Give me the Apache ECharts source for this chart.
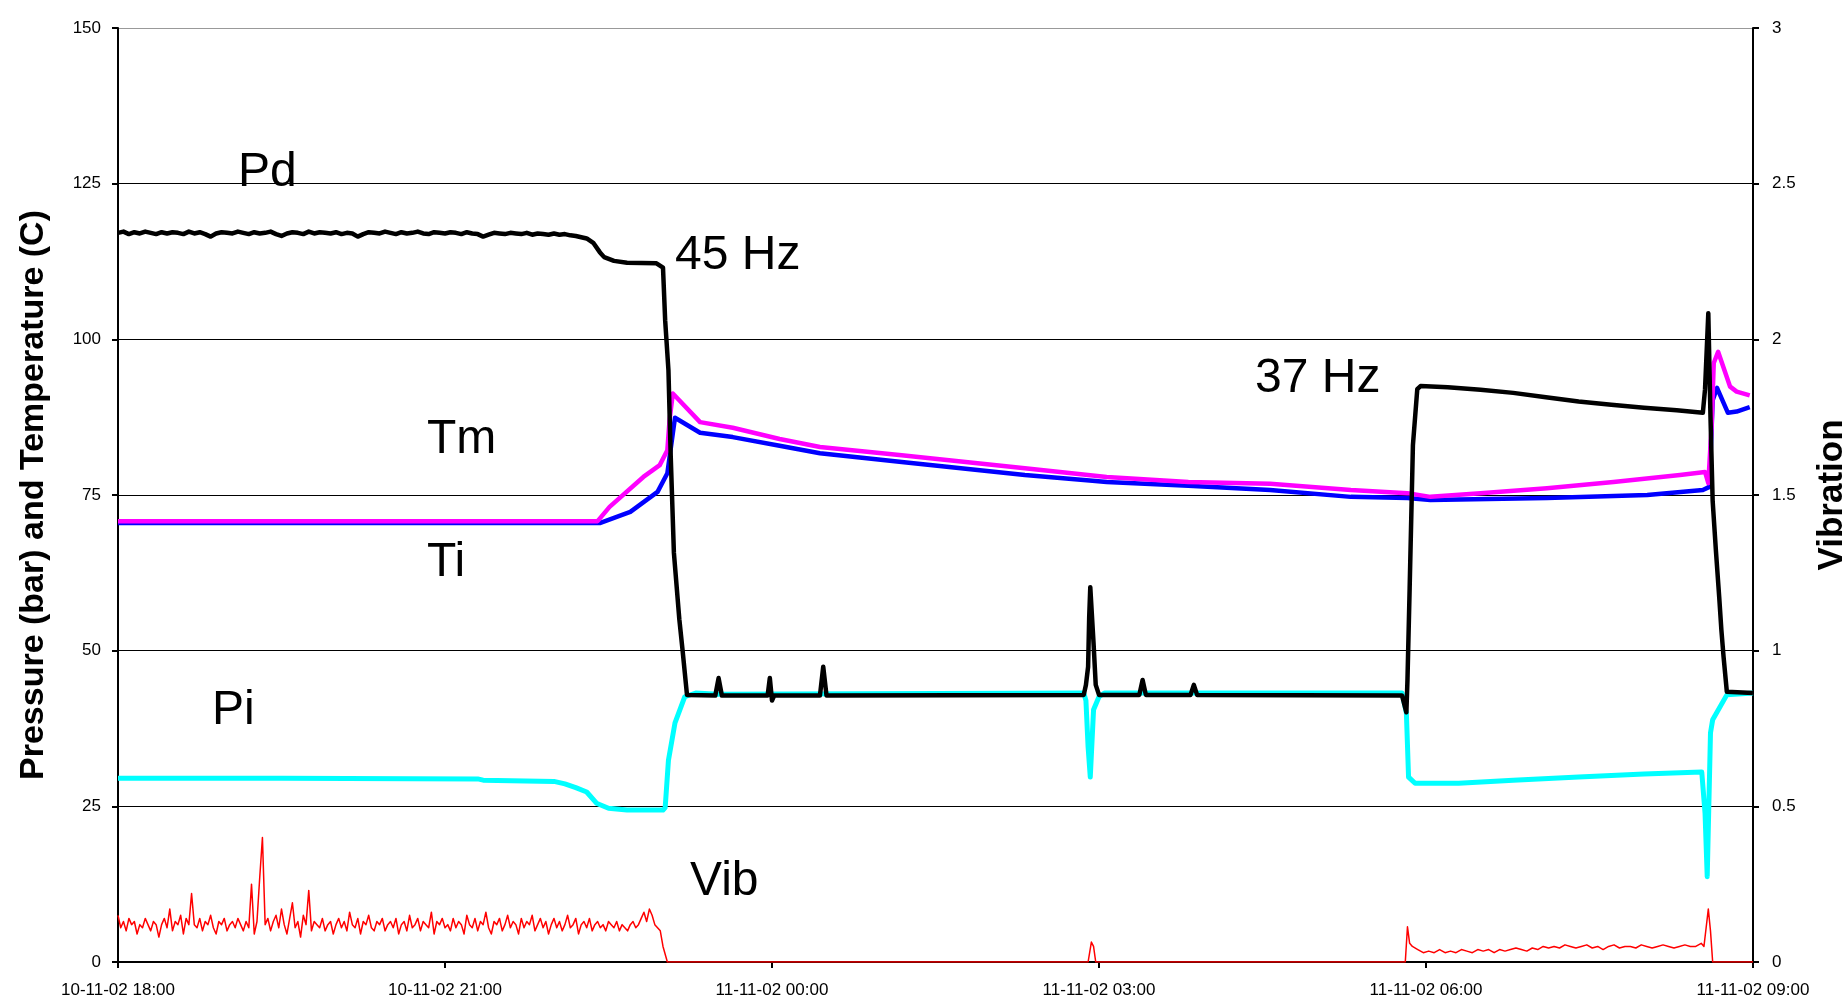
<!DOCTYPE html>
<html>
<head>
<meta charset="utf-8">
<script src="https://cdn.jsdelivr.net/npm/echarts@6/dist/echarts.min.js"></script>
<style>
html, body { margin: 0; padding: 0; background: #fff; }
#chart { width: 1845px; height: 1003px; }
</style>
</head>
<body>
<div id="chart"></div>
<script>
// x = hours since 10-11-02 18:00
const tickLabels = ['10-11-02 18:00', '10-11-02 21:00', '11-11-02 00:00', '11-11-02 03:00', '11-11-02 06:00', '11-11-02 09:00'];

// Pd (bar): noisy plateau sampled every 0.05 h from 0 h, then read-off points
const pdNoise = [
  117.1,117.3,116.9,117.2,117.0,117.3,117.1,116.9,117.2,117.0,
  117.2,117.1,116.9,117.3,117.0,117.2,116.9,116.5,117.0,117.2,
  117.1,117.0,117.3,117.1,116.9,117.2,117.0,117.1,117.3,116.9,
  116.6,117.0,117.2,117.1,116.9,117.3,117.0,117.2,117.1,117.0,
  117.2,116.9,117.1,117.0,116.5,116.9,117.2,117.1,117.0,117.3,
  117.1,116.9,117.2,117.0,117.1,117.3,117.0,116.9,117.2,117.1,
  117.0,117.2,117.1,116.9,117.2,117.0,116.9,116.5,116.8,117.1,
  117.0,116.9,117.1,117.0,116.9,117.1,116.8,117.0,116.9,116.8,
  117.0,116.8,116.9,116.7,116.6,116.4,116.2
];
const pdPoints = [
  [4.36, 115.5], [4.42, 114.0], [4.46, 113.2], [4.55, 112.6], [4.67, 112.3], [4.94, 112.2],
  [5.0, 111.5], [5.02, 103], [5.05, 95], [5.07, 81.7], [5.1, 65.7], [5.15, 55], [5.18, 50], [5.22, 42.9],
  [5.48, 42.8], [5.51, 45.6], [5.54, 42.8], [5.96, 42.8], [5.98, 45.6], [6.0, 42.0], [6.02, 42.8],
  [6.44, 42.8], [6.47, 47.4], [6.5, 42.8],
  [8.86, 42.9], [8.88, 44.5], [8.9, 47.4], [8.91, 55.4], [8.92, 60.2], [8.95, 51.2], [8.97, 44.5], [9.0, 42.9],
  [9.37, 42.9], [9.4, 45.3], [9.43, 42.9], [9.84, 42.9], [9.87, 44.5], [9.9, 42.9],
  [11.78, 42.8], [11.82, 40.1], [11.83, 45.3], [11.85, 60], [11.88, 83], [11.92, 92], [11.95, 92.5],
  [12.2, 92.3], [12.5, 91.9], [12.8, 91.4], [13.1, 90.7], [13.4, 90.0], [13.7, 89.5], [14.0, 89.0],
  [14.3, 88.6], [14.54, 88.2], [14.56, 92], [14.59, 104.2], [14.61, 87.5], [14.63, 74], [14.66, 66],
  [14.69, 58.6], [14.71, 53.3], [14.73, 49], [14.76, 43.4], [15, 43.2]
];

// Tm (C)
const tmPoints = [
  [0, 70.8], [4.4, 70.8], [4.51, 73.1], [4.82, 77.9], [4.97, 79.8], [5.04, 82.2], [5.06, 87], [5.09, 91.3],
  [5.34, 86.7], [5.64, 85.8], [6.07, 84.0], [6.44, 82.7], [7.19, 81.4], [8.32, 79.3], [9.07, 77.9],
  [9.82, 77.1], [10.57, 76.8], [11.31, 75.8], [11.83, 75.3], [12.04, 74.7], [12.5, 75.3], [13.11, 76.1],
  [13.72, 77.1], [14.33, 78.2], [14.56, 78.7], [14.59, 76.9], [14.62, 86], [14.64, 96.2], [14.68, 98],
  [14.79, 92.4], [14.85, 91.6], [14.97, 91]
];

// Ti (C)
const tiPoints = [
  [0, 70.5], [4.42, 70.5], [4.7, 72.3], [4.95, 75.5], [5.04, 78.5], [5.09, 84.9], [5.11, 87.4],
  [5.34, 85], [5.64, 84.3], [6.07, 82.9], [6.44, 81.7], [7.19, 80.3], [8.32, 78.2], [8.94, 77.3],
  [9.07, 77.1], [9.82, 76.5], [10.57, 75.8], [11.31, 74.7], [11.83, 74.5], [12.04, 74.2], [13.11, 74.5],
  [14.03, 75], [14.54, 75.8], [14.6, 76.3], [14.63, 90.2], [14.67, 92.2], [14.77, 88.2], [14.85, 88.4],
  [14.97, 89.1]
];

// Pi (bar)
const piPoints = [
  [0, 29.5], [1.5, 29.5], [3.3, 29.4], [3.35, 29.2], [4.0, 29.0], [4.1, 28.6], [4.2, 28.0], [4.3, 27.3],
  [4.39, 25.5], [4.5, 24.7], [4.67, 24.4], [5.0, 24.4], [5.02, 24.8], [5.05, 32.4], [5.11, 38.4],
  [5.2, 42.6], [5.3, 43.2], [5.5, 43.0], [8.86, 43.2], [8.88, 42], [8.9, 34.5], [8.92, 29.7],
  [8.95, 40.5], [9.0, 42.6], [9.05, 43.2], [11.78, 43.2], [11.82, 40], [11.84, 29.7], [11.9, 28.7],
  [12.3, 28.7], [12.8, 29.2], [13.4, 29.7], [14.0, 30.2], [14.53, 30.5], [14.56, 23.9], [14.58, 13.7],
  [14.61, 36.8], [14.63, 38.9], [14.76, 42.9], [15, 43.2]
];

// Vib (right axis): running noise every 0.025 h from 0 h
const vibNoise = [
  0.15,0.11,0.13,0.10,0.14,0.12,0.13,0.09,0.12,0.11,0.14,0.12,0.10,0.13,0.12,0.08,0.12,0.14,0.11,0.17,0.10,
  0.13,0.12,0.15,0.09,0.14,0.12,0.22,0.12,0.11,0.14,0.10,0.13,0.12,0.15,0.11,0.09,0.13,0.12,0.14,0.10,
  0.12,0.13,0.11,0.14,0.12,0.10,0.13,0.11,0.25,0.09,0.13,0.27,0.40,0.12,0.14,0.10,0.13,0.15,0.11,0.17,
  0.12,0.09,0.14,0.19,0.11,0.13,0.08,0.15,0.12,0.23,0.10,0.13,0.12,0.11,0.14,0.10,0.12,0.13,0.09,0.12,
  0.14,0.11,0.13,0.10,0.16,0.12,0.11,0.14,0.09,0.13,0.12,0.15,0.11,0.10,0.13,0.12,0.14,0.10,0.12,0.13,
  0.11,0.14,0.09,0.12,0.13,0.10,0.15,0.11,0.12,0.14,0.10,0.13,0.12,0.11,0.16,0.09,0.13,0.12,0.14,0.11,
  0.12,0.10,0.14,0.11,0.13,0.12,0.09,0.15,0.12,0.11,0.14,0.10,0.13,0.12,0.16,0.11,0.09,0.13,0.12,0.14,
  0.10,0.12,0.15,0.11,0.13,0.12,0.09,0.14,0.11,0.13,0.12,0.15,0.10,0.12,0.14,0.11,0.13,0.09,0.12,0.14,
  0.11,0.13,0.10,0.12,0.15,0.11,0.12,0.14,0.09,0.12,0.13,0.11,0.14,0.10,0.12,0.13,0.11,0.12,0.10,0.13,
  0.12,0.11,0.13,0.10,0.12,0.11,0.10,0.12,0.13,0.11,0.12,0.14,0.16,0.13,0.17,0.15,0.12,0.11,0.10,0.05
];
const vibMid = [[5.04, 0], [8.9, 0], [8.93, 0.064], [8.95, 0.05], [8.97, 0], [11.81, 0], [11.83, 0.113], [11.85, 0.06]];
// low running level after restart, every 0.05 h from 11.875 h
const vibLow = [
  0.05,0.04,0.03,0.035,0.03,0.04,0.03,0.035,0.03,0.04,
  0.035,0.03,0.04,0.035,0.04,0.03,0.04,0.035,0.04,0.045,
  0.04,0.035,0.045,0.04,0.05,0.045,0.05,0.045,0.055,0.05,
  0.045,0.05,0.055,0.045,0.05,0.04,0.05,0.055,0.045,0.05,
  0.05,0.045,0.055,0.05,0.045,0.05,0.055,0.05,0.045,0.05,
  0.055,0.05,0.05,0.06
];
const vibEnd = [[14.55, 0.05], [14.57, 0.11], [14.59, 0.17], [14.61, 0.10], [14.63, 0], [15, 0]];

function sampled(start, step, vals) {
  return vals.map((v, i) => [+(start + i * step).toFixed(4), v]);
}

const pdData = sampled(0, 0.05, pdNoise).concat(pdPoints);
const vibData = sampled(0, 0.025, vibNoise).concat(vibMid, sampled(11.875, 0.05, vibLow), vibEnd);

const FONT = "'Liberation Sans', Arial, sans-serif";

const chart = echarts.init(document.getElementById('chart'), null, { renderer: 'canvas' });

function line(name, data, color, width, yIndex, z) {
  return {
    name: name, type: 'line', data: data, yAxisIndex: yIndex, z: z,
    showSymbol: false, symbol: 'none', smooth: false,
    lineStyle: { color: color, width: width, join: 'round' }
  };
}

function label(text, x, y) {
  return {
    type: 'text', left: x, top: y, z: 100,
    style: { text: text, fill: '#000', font: '48px ' + FONT }
  };
}

chart.setOption({
  animation: false,
  backgroundColor: '#fff',
  grid: { left: 118, right: 92, top: 28, bottom: 41, outerBoundsMode: 'none', containLabel: false },
  xAxis: {
    type: 'value', min: 0, max: 15, interval: 3,
    axisLine: { show: true, onZero: false, lineStyle: { color: '#000', width: 2 } },
    axisTick: { show: true, inside: false, length: 6, lineStyle: { color: '#000', width: 2 } },
    axisLabel: {
      margin: 20, color: '#000', fontFamily: FONT, fontSize: 17,
      formatter: (v) => tickLabels[Math.round(v / 3)]
    },
    splitLine: { show: false }
  },
  yAxis: [
    {
      type: 'value', min: 0, max: 150, interval: 25, position: 'left',
      name: 'Pressure (bar) and Temperature (C)',
      nameLocation: 'middle', nameRotate: 90, nameGap: 67,
      nameTextStyle: { color: '#000', fontFamily: FONT, fontSize: 34, fontWeight: 'bold' },
      axisLine: { show: true, lineStyle: { color: '#000', width: 2 } },
      axisTick: { show: true, inside: false, length: 6, lineStyle: { color: '#000', width: 2 } },
      axisLabel: { margin: 17, color: '#000', fontFamily: FONT, fontSize: 17 },
      splitLine: {
        show: true,
        lineStyle: { color: ['#000', '#000', '#000', '#000', '#000', '#000', '#999'], width: 1.2 }
      }
    },
    {
      type: 'value', min: 0, max: 3, interval: 0.5, position: 'right',
      name: 'Vibration',
      nameLocation: 'middle', nameRotate: 90, nameGap: 62,
      nameTextStyle: { color: '#000', fontFamily: FONT, fontSize: 35, fontWeight: 'bold' },
      axisLine: { show: true, lineStyle: { color: '#000', width: 2 } },
      axisTick: { show: true, inside: false, length: 6, lineStyle: { color: '#000', width: 2 } },
      axisLabel: { margin: 19, color: '#000', fontFamily: FONT, fontSize: 17 },
      splitLine: { show: false }
    }
  ],
  series: [
    line('Vib', vibData, '#ff0000', 1.5, 1, 2),
    line('Pi', piPoints, '#00ffff', 5, 0, 3),
    line('Ti', tiPoints, '#0000ff', 4.5, 0, 4),
    line('Tm', tmPoints, '#ff00ff', 4.5, 0, 5),
    line('Pd', pdData, '#000000', 4.5, 0, 6)
  ],
  graphic: [
    label('Pd', 238, 149),
    label('45 Hz', 675, 232),
    label('37 Hz', 1255, 355),
    label('Tm', 427, 416),
    label('Ti', 427, 539),
    label('Pi', 212, 687),
    label('Vib', 690, 858)
  ]
});
</script>
</body>
</html>
